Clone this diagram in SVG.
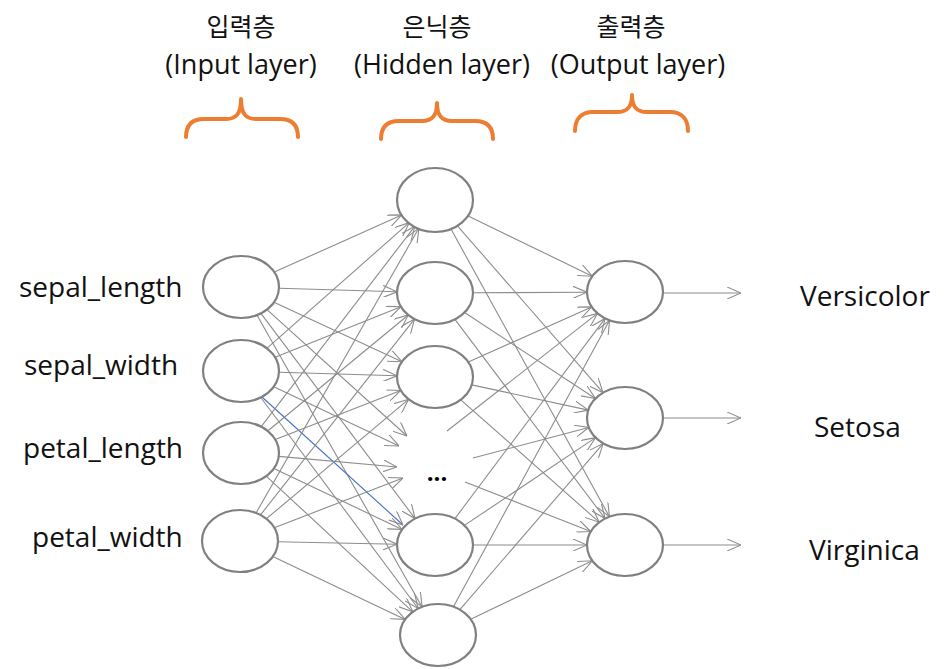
<svg xmlns="http://www.w3.org/2000/svg" width="950" height="669" viewBox="0 0 950 669">
<style>
.node{fill:#fff;stroke:#808080;stroke-width:2.2}
.lbl{font-family:"Open Sans","Noto Sans",sans-serif;font-size:28px;fill:#111}
.kr{font-family:"Noto Sans CJK KR","Noto Sans",sans-serif;font-size:25px;fill:#111;text-anchor:middle}
.en{font-family:"Open Sans","Noto Sans",sans-serif;font-size:27px;fill:#111;text-anchor:middle}
.brace{fill:none;stroke:#ED7D31;stroke-width:4;stroke-linecap:round;stroke-linejoin:round}
#connectors line{stroke:#8c8c8c;stroke-width:1.1;marker-end:url(#arr)}
#connectors line.blue{stroke:#4472C4}
</style>
<defs>
<marker id="arr" viewBox="0 0 14 12" refX="14" refY="6" markerWidth="14" markerHeight="12" markerUnits="userSpaceOnUse" orient="auto">
<path d="M0,0 L14,6 L0,12" fill="none" stroke="#8c8c8c" stroke-width="1.1"/>
</marker>
</defs>
<rect width="950" height="669" fill="#fff"/>
<g id="headers">
<text class="kr" x="241" y="36">입력층</text>
<text class="en" x="241" y="74">(Input layer)</text>
<text class="kr" x="437" y="36">은닉층</text>
<text class="en" x="442" y="74">(Hidden layer)</text>
<text class="kr" x="631" y="36">출력층</text>
<text class="en" x="638" y="74">(Output layer)</text>
<path class="brace" d="M186,137 C186,125 192,119 204,119 L226,119 C236,119 241,114 241,99 C241,114 246,119 256,119 L280,119 C292,119 298,125 298,137"/>
<path class="brace" d="M381,139 C381,127 387,121 399,121 L422,121 C432,121 437,116 437,103 C437,116 442,121 452,121 L475,121 C487,121 493,127 493,139"/>
<path class="brace" d="M575,131 C575,119 581,112 593,112 L617,112 C627,112 632,107 632,95 C632,107 637,112 647,112 L670,112 C682,112 688,119 688,131"/>
</g>
<g id="connectors">
<line x1="274.3" y1="272.1" x2="401.7" y2="214.9"/>
<line x1="279" y1="288.2" x2="397" y2="291.8"/>
<line x1="274" y1="302.3" x2="402" y2="361.7"/>
<line x1="267" y1="309.6" x2="407" y2="436"/>
<line x1="260.9" y1="313.4" x2="415.1" y2="518.6"/>
<line x1="256.9" y1="315.1" x2="422.1" y2="606.9"/>
<line x1="266.8" y1="348.3" x2="409.2" y2="222.7"/>
<line x1="275.1" y1="357.3" x2="400.9" y2="306.7"/>
<line x1="279" y1="372.2" x2="397" y2="375.8"/>
<line x1="273.8" y1="386.7" x2="399" y2="446"/>
<line class="blue" x1="262" y1="397" x2="403" y2="525"/>
<line x1="260.8" y1="397.5" x2="418.2" y2="608.5"/>
<line x1="261.2" y1="426.7" x2="414.8" y2="226.3"/>
<line x1="267.7" y1="431" x2="408.3" y2="315"/>
<line x1="275.3" y1="439.6" x2="400.7" y2="390.4"/>
<line x1="278.8" y1="456.4" x2="397" y2="467"/>
<line x1="273.9" y1="468.6" x2="402.1" y2="529.4"/>
<line x1="266.2" y1="476.2" x2="412.8" y2="611.8"/>
<line x1="256.1" y1="512.9" x2="418.9" y2="228.1"/>
<line x1="260.5" y1="514.9" x2="414.5" y2="319.1"/>
<line x1="266.5" y1="518.7" x2="408.5" y2="399.3"/>
<line x1="274.3" y1="527.7" x2="403" y2="478"/>
<line x1="278" y1="541.8" x2="397" y2="544.2"/>
<line x1="272.8" y1="556.6" x2="405.2" y2="619.4"/>
<line x1="467.7" y1="215.8" x2="592.3" y2="276.2"/>
<line x1="457" y1="225.3" x2="603" y2="392.7"/>
<line x1="450.6" y1="228.3" x2="609.4" y2="516.7"/>
<line x1="473" y1="292.8" x2="587" y2="292.2"/>
<line x1="464.6" y1="312.5" x2="595.4" y2="398.5"/>
<line x1="454.9" y1="319.4" x2="605.1" y2="518.6"/>
<line x1="468.3" y1="362.1" x2="591.7" y2="306.9"/>
<line x1="471.7" y1="384.9" x2="588.3" y2="410.1"/>
<line x1="460.8" y1="399.8" x2="599.2" y2="522.2"/>
<line x1="447" y1="431" x2="597.5" y2="313.4"/>
<line x1="473" y1="458" x2="588.8" y2="427.5"/>
<line x1="465" y1="482" x2="590.8" y2="531.5"/>
<line x1="454.9" y1="518.6" x2="605.1" y2="318.4"/>
<line x1="464.4" y1="525.4" x2="595.6" y2="437.6"/>
<line x1="473" y1="545" x2="587" y2="545"/>
<line x1="453.4" y1="606.7" x2="609.6" y2="320.3"/>
<line x1="459.9" y1="609.6" x2="603.1" y2="443.6"/>
<line x1="470.7" y1="619.2" x2="592.3" y2="560.8"/>
<line x1="664" y1="293" x2="741" y2="293"/>
<line x1="664" y1="418" x2="741" y2="418"/>
<line x1="664" y1="545" x2="741" y2="545"/>
</g>
<g id="in1"><ellipse class="node" cx="241" cy="287" rx="38" ry="31"/><text class="lbl" x="19" y="297">sepal_length</text></g>
<g id="in2"><ellipse class="node" cx="241" cy="371" rx="38" ry="31"/><text class="lbl" x="24" y="375">sepal_width</text></g>
<g id="in3"><ellipse class="node" cx="241" cy="453" rx="38" ry="31"/><text class="lbl" x="23" y="458">petal_length</text></g>
<g id="in4"><ellipse class="node" cx="240" cy="541" rx="38" ry="31"/><text class="lbl" x="32" y="547">petal_width</text></g>
<g id="h1"><ellipse class="node" cx="435" cy="200" rx="38" ry="32"/></g>
<g id="h2"><ellipse class="node" cx="435" cy="293" rx="38" ry="31"/></g>
<g id="h3"><ellipse class="node" cx="435" cy="377" rx="38" ry="31"/></g>
<g id="hdots"><text x="437" y="481" font-family="'Open Sans',sans-serif" font-size="24" font-weight="bold" text-anchor="middle" fill="#000">...</text></g>
<g id="h5"><ellipse class="node" cx="435" cy="545" rx="38" ry="31"/></g>
<g id="h6"><ellipse class="node" cx="438" cy="635" rx="38" ry="31"/></g>
<g id="o1"><ellipse class="node" cx="625" cy="292" rx="38" ry="31"/><text class="lbl" x="800" y="306">Versicolor</text></g>
<g id="o2"><ellipse class="node" cx="625" cy="418" rx="38" ry="31"/><text class="lbl" x="814" y="437">Setosa</text></g>
<g id="o3"><ellipse class="node" cx="625" cy="545" rx="38" ry="31"/><text class="lbl" x="809" y="560">Virginica</text></g>
</svg>
